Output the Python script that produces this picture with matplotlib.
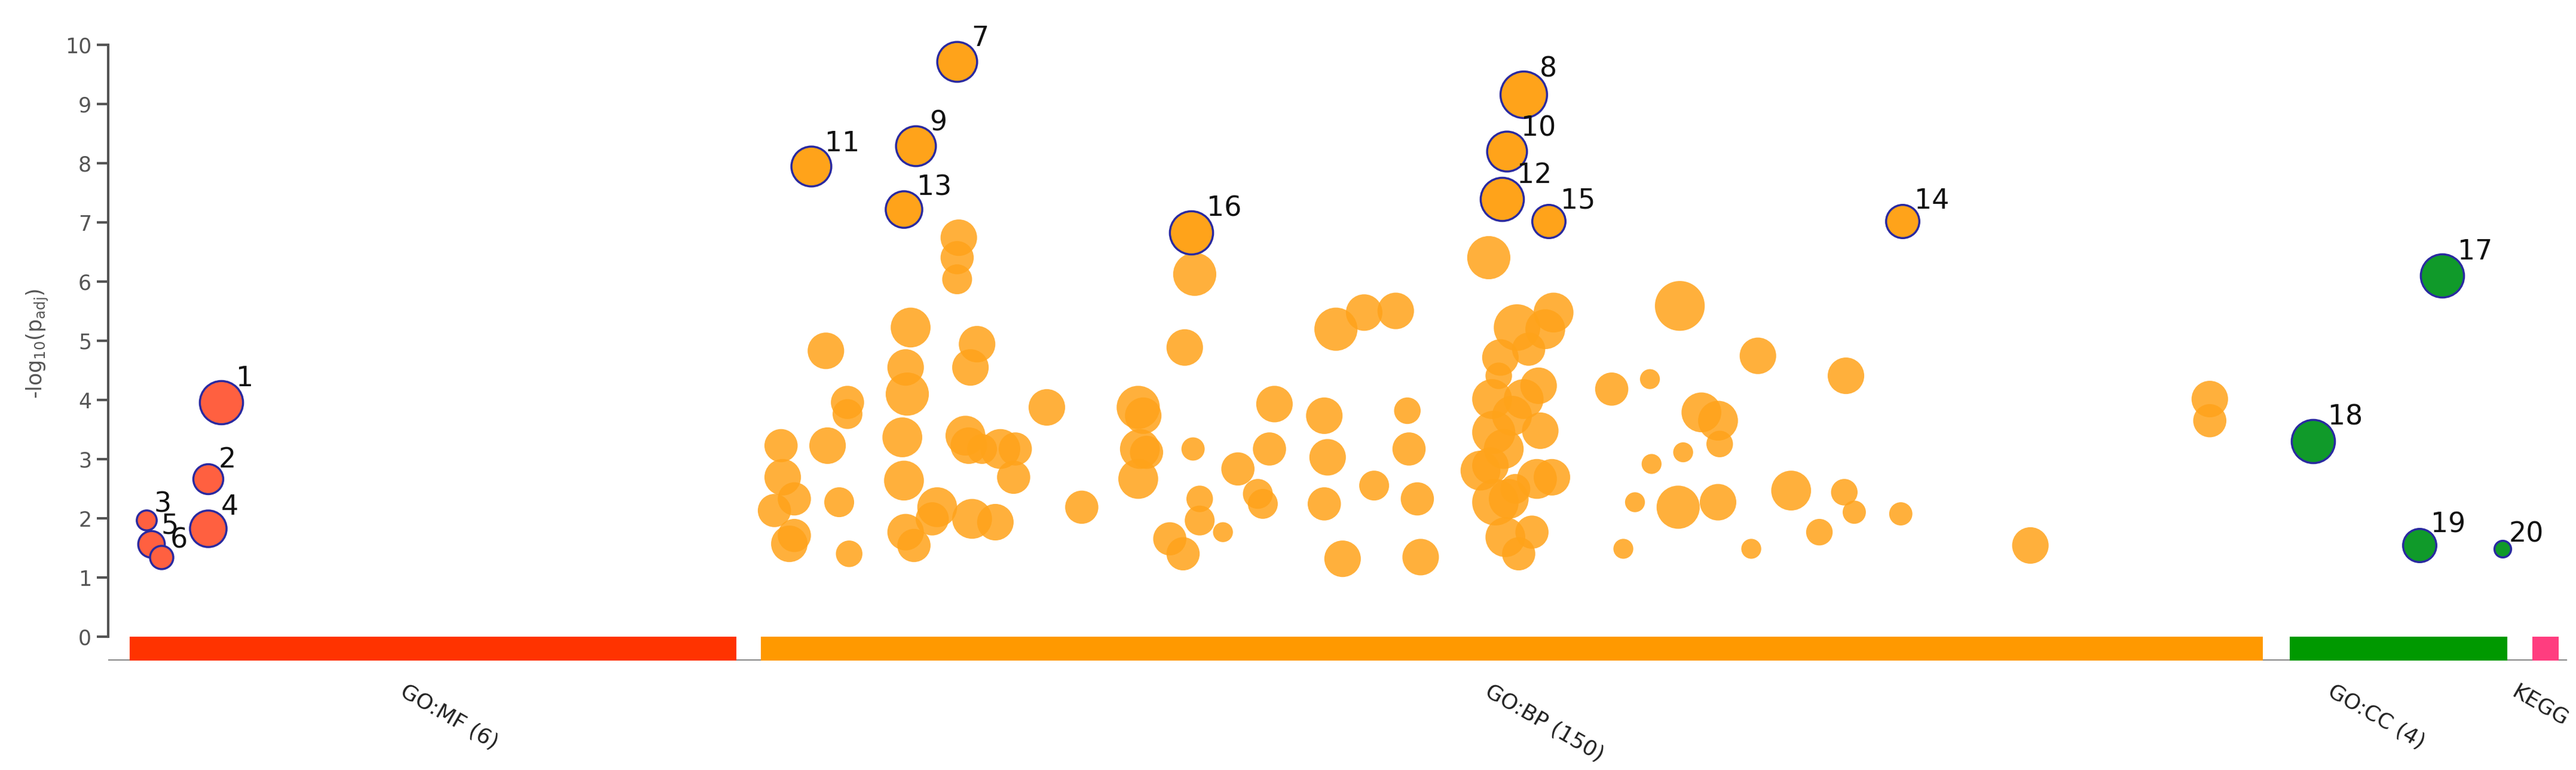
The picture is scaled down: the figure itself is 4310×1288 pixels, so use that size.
import matplotlib
matplotlib.use("Agg")
import matplotlib.pyplot as plt

# Highlighted terms: id, source, position, -log10(p_adj), bubble radius
hl_ids = [1, 2, 3, 4, 5, 6, 7, 8, 9, 10, 11, 12, 13, 14, 15, 16, 17, 18, 19, 20]
hl_src = ["MF"] * 6 + ["BP"] * 10 + ["CC"] * 4
hl_x = [133, 125, 88, 125, 91, 97, 576, 917, 551, 907, 488, 904, 544, 1145, 932, 717, 1470, 1392, 1456, 1506]
hl_y = [3.96, 2.67, 1.97, 1.83, 1.57, 1.35, 9.72, 9.16, 8.29, 8.20, 7.95, 7.39, 7.22, 7.02, 7.02, 6.83, 6.10, 3.31, 1.55, 1.49]
hl_r = [13, 9, 6, 11, 8, 7, 12, 14, 12, 12, 12, 13, 11, 10, 10, 13, 13, 13, 10, 5]

# Other GO:BP terms (position, pixel-y, radius)
bp_x = [577, 576, 576, 719, 548, 588, 497, 584, 545, 510, 546, 510, 470, 498, 581, 583, 630, 602, 611, 471,
        478, 478, 466, 475, 543, 544, 545, 550, 511, 505, 564, 585, 599, 561, 610, 591, 651, 685, 688, 690,
        713, 686, 685, 704, 712, 718, 722, 722, 736, 745, 757, 767, 764, 760, 797, 799, 797, 808, 827, 847,
        848, 804, 821, 840, 853, 855, 896, 902, 899, 891, 900, 906, 914, 912, 917, 926, 927, 925, 913, 935,
        930, 934, 922, 970, 993, 984, 994, 1013, 1011, 1024, 1034, 1035, 1010, 1034, 1078, 1058, 1111, 1110, 1095, 1054,
        977, 1116, 1144, 1222, 1330, 1330, 898, 905, 903, 910, 897, 920, 908]
bp_py = [143, 155, 168, 165, 197, 207, 211, 221, 221, 242, 237, 249, 268, 268, 262, 268, 245, 270, 270, 287,
         300, 322, 307, 327, 263, 289, 320, 328, 333, 302, 305, 312, 314, 312, 287, 270, 305, 245, 250, 272,
         209, 270, 288, 324, 333, 270, 300, 313, 320, 282, 297, 243, 270, 303, 250, 275, 303, 336, 292, 247,
         270, 198, 188, 187, 300, 335, 155, 226, 260, 283, 302, 323, 333, 294, 240, 232, 259, 288, 197, 188,
         198, 287, 320, 234, 228, 302, 279, 272, 184, 248, 253, 267, 305, 302, 295, 214, 226, 296, 320, 330,
         330, 308, 309, 328, 240, 253, 240, 270, 215, 250, 280, 210, 300]
bp_r = [11, 10, 9, 13, 12, 11, 11, 11, 11, 10, 13, 9, 10, 11, 12, 11, 11, 12, 10, 11,
        10, 10, 10, 11, 12, 12, 11, 10, 8, 9, 12, 12, 11, 10, 10, 9, 10, 13, 11, 10,
        11, 12, 12, 10, 10, 7, 8, 9, 6, 10, 9, 11, 10, 9, 11, 11, 10, 11, 9, 8,
        10, 13, 11, 11, 10, 11, 13, 8, 13, 12, 14, 12, 10, 9, 12, 11, 11, 12, 14, 12,
        12, 11, 10, 10, 6, 6, 6, 6, 15, 12, 12, 8, 13, 11, 12, 11, 11, 8, 8, 6,
        6, 7, 7, 11, 11, 10, 12, 12, 11, 12, 11, 10, 12]

sources = ["GO:MF (6)", "GO:BP (150)", "GO:CC (4)", "KEGG"]
src_start = [78, 458, 1378, 1524]
src_end = [443, 1362, 1509, 1540]
label_x = [245, 898, 1405, 1516]
src_bar_col = ["#FF3300", "#FF9900", "#009900", "#FF3D7F"]
fill = {"MF": "#FF6040", "BP": "#FFA31A", "CC": "#109A2A"}

y_ticks = list(range(0, 11))

fig = plt.figure(figsize=(43.10, 12.88), dpi=100)
ax = fig.add_axes([0.042, 0.142, 0.9545, 0.823])
ax.set_xlim(65, 1545)
ax.set_ylim(-0.4, 10.3)

bp_y = [(383 - p) / 35.6 for p in bp_py]
ax.scatter(bp_x, bp_y, s=[16 * r * r for r in bp_r], color="#FFA31A", alpha=0.85,
           linewidths=0, zorder=2)

for i, sx, sy, r, src in zip(hl_ids, hl_x, hl_y, hl_r, hl_src):
    ax.scatter([sx], [sy], s=[16 * r * r], color=fill[src], edgecolors="#2A2AA0",
               linewidths=2.5, zorder=3)
    off = r * 2.0 + 2
    ax.annotate(str(i), (sx, sy), xytext=(off * 0.65, off * 0.7), textcoords="offset points",
                fontsize=33, color="#111111", zorder=4)

for name, s0, s1, c, lx in zip(sources, src_start, src_end, src_bar_col, label_x):
    ax.bar((s0 + s1) / 2, -0.4, width=s1 - s0, bottom=0, color=c, zorder=2)
    ax.text(lx, -0.75, name, rotation=-30,
            rotation_mode="anchor", ha="left", va="top", fontsize=26, color="#222222")

ax.axhline(-0.4, color="#888888", lw=3, zorder=1)
for sp in ["top", "right", "bottom"]:
    ax.spines[sp].set_visible(False)
ax.spines["left"].set_bounds(0, 10)
ax.spines["left"].set_color("#555555")
ax.spines["left"].set_linewidth(3)
ax.set_yticks(y_ticks)
ax.tick_params(axis="y", labelsize=25, colors="#555555", length=14, width=3, pad=6)
ax.set_xticks([])
ax.set_ylabel("-log$_{10}$(p$_{\\mathrm{adj}}$)", fontsize=25, color="#555555", labelpad=18)

fig.savefig("out.png", dpi=100, facecolor="white")
